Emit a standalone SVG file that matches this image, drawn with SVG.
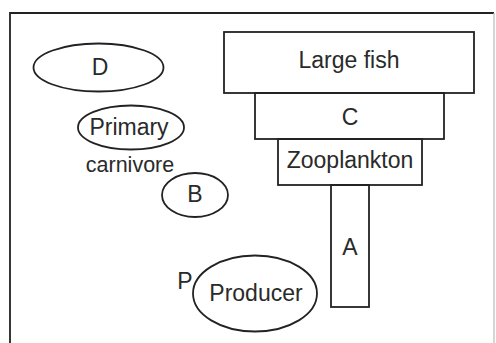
<svg xmlns="http://www.w3.org/2000/svg" width="496" height="343" viewBox="0 0 496 343">
<style>
.s{fill:none;stroke:#222;stroke-width:1.8}
.t{font-family:"Liberation Sans",Arial,sans-serif;font-size:23px;fill:#2a2a2a;text-anchor:middle}
</style>
<rect width="496" height="343" fill="#fff"/>
<g id="frame">
<path class="s" d="M10,343 V13 H494"/>
<path d="M494,13 V343" fill="none" stroke="#bbb" stroke-width="1.2"/>
</g>
<g id="large-fish"><rect class="s" x="224" y="32" width="250" height="61"/><text class="t" x="349" y="68">Large fish</text></g>
<g id="c"><rect class="s" x="255" y="93" width="189" height="46"/><text class="t" x="350" y="125">C</text></g>
<g id="zooplankton"><rect class="s" x="278" y="139" width="144" height="46"/><text class="t" x="350" y="168">Zooplankton</text></g>
<g id="a"><rect class="s" x="331" y="185" width="38" height="122"/><text class="t" x="350" y="255">A</text></g>
<g id="d"><ellipse class="s" cx="98.5" cy="67.5" rx="65" ry="24"/><text class="t" x="100" y="75">D</text></g>
<g id="primary"><ellipse class="s" cx="131" cy="127.5" rx="53" ry="22"/><text class="t" x="129" y="135">Primary</text></g>
<g id="carnivore"><text class="t" x="130" y="172" style="font-size:21.5px">carnivore</text></g>
<g id="b"><ellipse class="s" cx="195" cy="195" rx="33" ry="22"/><text class="t" x="195" y="202">B</text></g>
<g id="producer"><ellipse class="s" cx="255" cy="293.5" rx="62" ry="38"/><text class="t" x="256" y="301">Producer</text></g>
<g id="p"><text class="t" x="185" y="289">P</text></g>
<g id="connectors"></g>
</svg>
